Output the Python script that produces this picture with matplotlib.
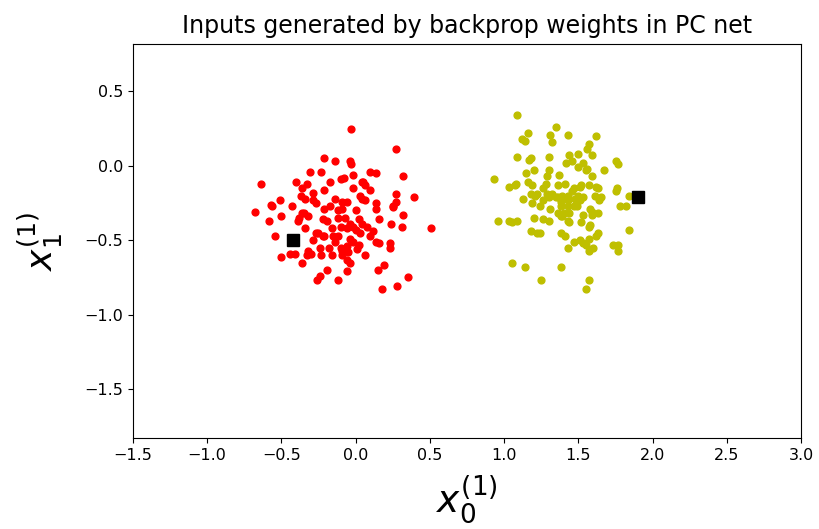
import matplotlib
matplotlib.use('Agg')
import matplotlib.pyplot as plt

# inputs generated for class 0 (red) and class 1 (yellow)
red_x = [-0.21, -0.14, -0.04, -0.03, -0.03, 0.27, -0.31, -0.23, -0.02, 0.10,
         0.14, 0.32, -0.64, -0.40, -0.33, -0.17, -0.10, 0.04, 0.06, -0.02,
         0.10, -0.21, -0.29, -0.36, -0.37, -0.34, -0.29, -0.27, -0.14, -0.09,
         -0.06, 0.04, 0.14, 0.27, 0.39, 0.27, 0.25, -0.51, -0.57, -0.43,
         -0.21, -0.17, -0.12, -0.09, 0.00, 0.14, 0.25, 0.32, -0.35, -0.38,
         -0.32, -0.22, -0.19, -0.12, -0.07, 0.02, 0.04, -0.04, 0.16, -0.68,
         -0.56, -0.58, -0.50, 0.24, 0.31, 0.51, -0.34, -0.16, -0.10, -0.06,
         0.00, 0.08, 0.12, -0.25, -0.22, -0.12, 0.03, 0.10, -0.04, -0.54,
         -0.29, -0.14, -0.02, 0.02, 0.14, 0.16, 0.23, 0.23, -0.32, -0.24,
         -0.18, -0.10, -0.06, -0.05, 0.01, -0.16, -0.09, -0.30, -0.33, -0.41,
         -0.44, -0.50, -0.36, -0.23, 0.06, -0.06, -0.04, 0.19, 0.15, -0.06,
         -0.19, -0.24, -0.26, -0.12, 0.35, 0.28, 0.18, -0.39, -0.36, -0.27,
         -0.21, -0.15, -0.09, -0.08, 0.05, 0.06, -0.02, 0.03]
red_y = [0.05, 0.03, 0.03, 0.01, 0.25, 0.11, -0.04, -0.04, -0.06, -0.04,
         -0.05, -0.07, -0.12, -0.11, -0.12, -0.11, -0.09, -0.11, -0.13, -0.15,
         -0.16, -0.16, -0.18, -0.15, -0.20, -0.22, -0.23, -0.25, -0.22, -0.24,
         -0.24, -0.22, -0.25, -0.19, -0.21, -0.24, -0.27, -0.23, -0.26, -0.27,
         -0.29, -0.27, -0.30, -0.29, -0.30, -0.29, -0.28, -0.33, -0.32, -0.35,
         -0.34, -0.36, -0.37, -0.35, -0.35, -0.36, -0.39, -0.39, -0.36, -0.31,
         -0.27, -0.37, -0.34, -0.39, -0.41, -0.42, -0.42, -0.42, -0.41, -0.42,
         -0.43, -0.41, -0.44, -0.45, -0.47, -0.47, -0.45, -0.47, -0.49, -0.47,
         -0.50, -0.51, -0.51, -0.53, -0.51, -0.52, -0.52, -0.55, -0.57, -0.55,
         -0.55, -0.55, -0.54, -0.58, -0.56, -0.60, -0.60, -0.59, -0.60, -0.59,
         -0.59, -0.61, -0.65, -0.60, -0.60, -0.63, -0.65, -0.67, -0.70, -0.71,
         -0.70, -0.74, -0.77, -0.77, -0.75, -0.81, -0.83, -0.37, -0.32, -0.45,
         -0.47, -0.47, -0.57, -0.08, -0.11, -0.23, -0.41, -0.20]

yel_x = [1.09, 1.35, 1.16, 1.12, 1.14, 1.31, 1.32, 1.43, 1.62, 1.57,
         1.56, 1.59, 1.50, 1.44, 1.46, 1.42, 1.50, 1.53, 1.55, 1.56,
         1.67, 1.75, 1.77, 1.09, 1.18, 1.30, 1.17, 0.93, 1.03, 1.07,
         1.15, 1.20, 1.30, 1.29, 1.37, 1.16, 1.19, 1.28, 1.26, 1.36,
         1.41, 1.59, 1.57, 1.51, 1.47, 1.63, 1.76, 1.75, 1.84, 1.43,
         1.50, 1.61, 1.65, 1.13, 1.18, 1.21, 1.32, 1.36, 1.38, 1.08,
         1.22, 1.29, 1.39, 1.46, 1.52, 1.62, 1.19, 1.24, 1.31, 1.38,
         1.26, 1.30, 1.35, 1.43, 1.48, 1.53, 1.43, 1.49, 1.58, 0.96,
         1.03, 1.05, 1.09, 1.20, 1.26, 1.30, 1.38, 1.18, 1.22, 1.24,
         1.38, 1.43, 1.58, 1.41, 1.47, 1.51, 1.57, 1.62, 1.55, 1.05,
         1.14, 1.38, 1.25, 1.38, 1.43, 1.47, 1.51, 1.64, 1.78, 1.82,
         1.40, 1.44, 1.53, 1.59, 1.59, 1.63, 1.36, 1.39, 1.44, 1.52,
         1.57, 1.63, 1.84, 1.53, 1.57, 1.60, 1.43, 1.73, 1.77, 1.77,
         1.57, 1.55]
yel_y = [0.34, 0.26, 0.22, 0.18, 0.17, 0.21, 0.16, 0.21, 0.20, 0.15,
         0.11, 0.07, 0.08, 0.07, 0.03, 0.02, -0.01, 0.02, -0.03, -0.02,
         -0.03, 0.03, 0.01, 0.06, 0.05, 0.06, 0.04, -0.09, -0.14, -0.13,
         -0.05, -0.03, -0.03, -0.07, -0.06, -0.11, -0.13, -0.12, -0.15, -0.13,
         -0.12, -0.07, -0.13, -0.14, -0.15, -0.15, -0.15, -0.17, -0.20, -0.20,
         -0.20, -0.20, -0.21, -0.22, -0.19, -0.20, -0.19, -0.21, -0.22, -0.12,
         -0.19, -0.19, -0.20, -0.17, -0.13, -0.14, -0.25, -0.27, -0.29, -0.27,
         -0.23, -0.21, -0.21, -0.22, -0.22, -0.21, -0.27, -0.27, -0.29, -0.37,
         -0.37, -0.38, -0.37, -0.35, -0.36, -0.37, -0.34, -0.44, -0.45, -0.45,
         -0.45, -0.37, -0.40, -0.47, -0.51, -0.50, -0.49, -0.47, -0.53, -0.65,
         -0.68, -0.68, -0.77, -0.24, -0.23, -0.27, -0.23, -0.23, -0.27, -0.27,
         -0.32, -0.32, -0.33, -0.31, -0.33, -0.32, -0.32, -0.34, -0.38, -0.38,
         -0.41, -0.45, -0.43, -0.52, -0.57, -0.55, -0.55, -0.53, -0.53, -0.57,
         -0.77, -0.83]

# target points (black squares)
target_x = [-0.42, 1.90]
target_y = [-0.50, -0.21]

fig = plt.figure(figsize=(8.2, 5.29), dpi=100)
ax = fig.add_axes([0.162, 0.172, 0.815, 0.745])

ax.scatter(red_x, red_y, s=24, c='r')
ax.scatter(yel_x, yel_y, s=24, c='y')
ax.plot(target_x, target_y, 'ks', markersize=9)

ax.set_xlim(-1.5, 3.0)
ax.set_ylim(-1.83, 0.82)
ax.set_xticks([-1.5, -1.0, -0.5, 0.0, 0.5, 1.0, 1.5, 2.0, 2.5, 3.0])
ax.set_yticks([-1.5, -1.0, -0.5, 0.0, 0.5])
ax.tick_params(labelsize=11.5)

ax.set_title('Inputs generated by backprop weights in PC net', fontsize=17, pad=8)
ax.set_xlabel(r'$x_0^{(1)}$', fontsize=27, labelpad=8)
ax.set_ylabel(r'$x_1^{(1)}$', fontsize=26, labelpad=14)

fig.savefig('out.png')
